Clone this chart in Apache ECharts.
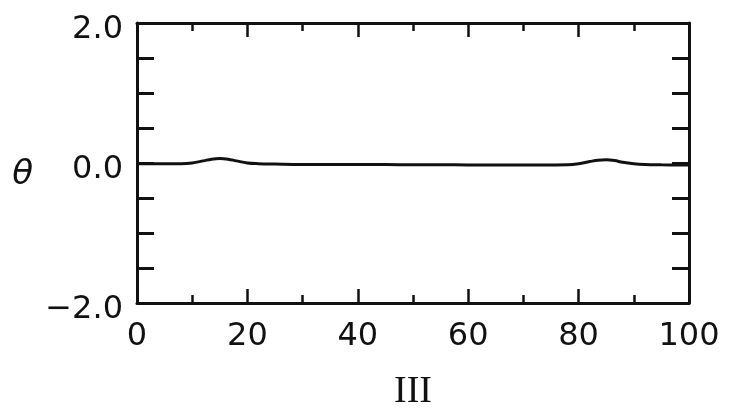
<!DOCTYPE html>
<html>
<head>
<meta charset="utf-8">
<script src="https://cdn.jsdelivr.net/npm/echarts@6/dist/echarts.min.js"></script>
<style>html,body{margin:0;padding:0;background:#fff;}#c{width:729px;height:410px;}</style>
</head>
<body>
<div id="c"></div>
<script>
const xValues = [0, 5, 8, 10, 12, 13.5, 15, 16.5, 18, 20, 22, 25, 30, 35, 40, 45, 50, 55, 60, 65, 70, 75, 78, 80, 82, 83.5, 85, 86.5, 88, 90, 92, 95, 100];
const thetaValues = [-0.01, -0.01, -0.01, 0.0, 0.03, 0.055, 0.065, 0.055, 0.03, 0.0, -0.01, -0.015, -0.02, -0.02, -0.02, -0.022, -0.025, -0.025, -0.028, -0.03, -0.03, -0.028, -0.025, -0.01, 0.02, 0.04, 0.045, 0.035, 0.01, -0.01, -0.02, -0.025, -0.03];
const yTickLabels = ['-2.0', '0.0', '2.0'];

const chart = echarts.init(document.getElementById('c'));
const ink = '#111';
const labelFont = '"DejaVu Sans", sans-serif';
const xAxisBase = {
  type: 'value', min: 0, max: 100, interval: 20,
  axisLine: { show: true, onZero: false, lineStyle: { color: ink, width: 3 } },
  axisTick: { show: true, inside: true, length: 14, lineStyle: { color: ink, width: 2.5 } },
  minorTick: { show: true, splitNumber: 2, length: 8, lineStyle: { color: ink, width: 2.5 } },
  splitLine: { show: false }
};
const yAxisBase = {
  type: 'value', min: -2, max: 2, interval: 0.5,
  axisLine: { show: true, onZero: false, lineStyle: { color: ink, width: 3 } },
  axisTick: { show: true, inside: true, length: 17, lineStyle: { color: ink, width: 3 } },
  splitLine: { show: false }
};
chart.setOption({
  animation: false,
  backgroundColor: '#fff',
  grid: { left: 137, right: 40, top: 23, bottom: 107, outerBoundsMode: 'none', containLabel: false },
  xAxis: [
    Object.assign({}, xAxisBase, {
      position: 'bottom',
      name: 'III', nameLocation: 'middle', nameGap: 70,
      nameTextStyle: { fontFamily: '"Liberation Serif", serif', fontSize: 38, color: ink },
      axisLabel: { show: true, margin: 18, fontSize: 32, color: ink, fontFamily: labelFont }
    }),
    Object.assign({}, xAxisBase, { position: 'top', axisLabel: { show: false } })
  ],
  yAxis: [
    Object.assign({}, yAxisBase, {
      position: 'left',
      name: '{t|θ}', nameLocation: 'middle', nameRotate: 0, nameGap: 104,
      nameTextStyle: {
        color: ink,
        rich: { t: { fontFamily: '"DejaVu Sans", sans-serif', fontStyle: 'italic', fontSize: 34, color: ink, padding: [24, 0, 0, 0] } }
      },
      axisLabel: {
        show: true, margin: 14, color: ink,
        rich: { v: { fontSize: 32, color: ink, fontFamily: labelFont, padding: [14, 0, 0, 0] } },
        formatter: v => {
          const s = v.toFixed(1);
          return yTickLabels.includes(s) ? '{v|' + s.replace('-', '\u2212') + '}' : '';
        }
      }
    }),
    Object.assign({}, yAxisBase, { position: 'right', axisLabel: { show: false } })
  ],
  series: [{
    type: 'line',
    xAxisIndex: 0, yAxisIndex: 0,
    data: xValues.map((x, i) => [x, thetaValues[i]]),
    smooth: 0.4,
    showSymbol: false,
    lineStyle: { color: ink, width: 3 }
  }]
});
</script>
</body>
</html>
